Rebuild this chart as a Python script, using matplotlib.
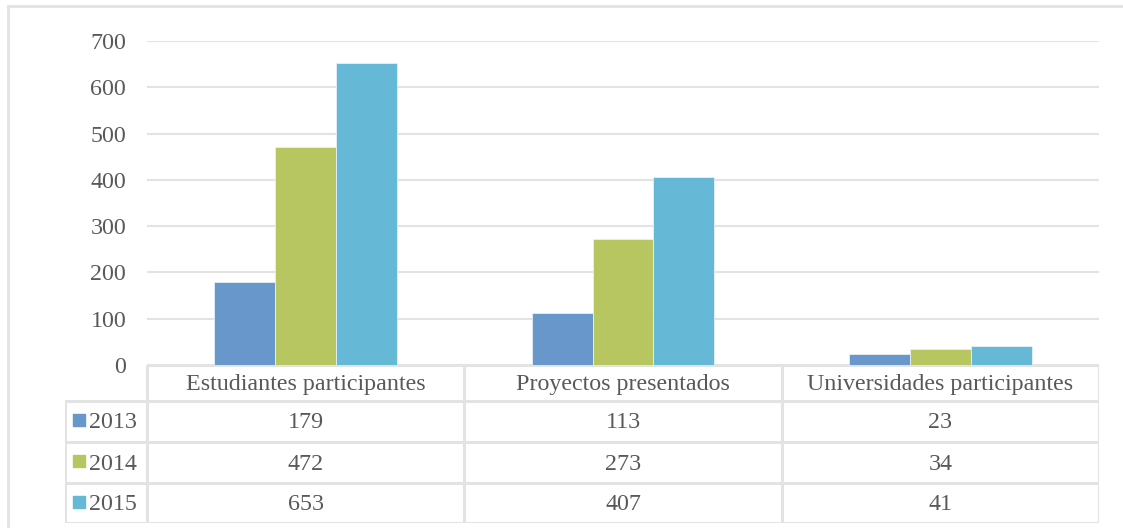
import matplotlib.pyplot as plt
import numpy as np

categories = ["Estudiantes participantes", "Proyectos presentados", "Universidades participantes"]
series_names = ["2013", "2014", "2015"]
values_2013 = [179, 113, 23]
values_2014 = [472, 273, 34]
values_2015 = [653, 407, 41]
y_ticks = [0, 100, 200, 300, 400, 500, 600, 700]

COLORS = ["#6897CB", "#B7C661", "#65B9D6"]
TEXT = "#595959"
GRID = "#E3E3E3"
FONT = "Liberation Serif"
FS = 17.3

W, H = 1123, 528
fig = plt.figure(figsize=(W / 100, H / 100), dpi=100)

def fx(px):
    return px / W

def fy(py):
    return 1 - py / H

# outer chart border (top and left visible)
fig.add_artist(plt.Line2D([fx(8), 1], [fy(6), fy(6)], color=GRID, lw=2))
fig.add_artist(plt.Line2D([fx(8), fx(8)], [fy(6), 0], color=GRID, lw=2))

# main bar axes
left, right, top, bottom = 147, 1099, 41, 365
ax = fig.add_axes([fx(left), fy(bottom), fx(right - left), (bottom - top) / H])

series = [values_2013, values_2014, values_2015]
x = np.arange(len(categories))
width = 0.192
for i, vals in enumerate(series):
    ax.bar(x + (i - 1) * width, vals, width, color=COLORS[i],
           edgecolor="#E8F0F8", linewidth=0.6, zorder=3)

ax.set_xlim(-0.5, 2.5)
ax.set_ylim(0, 700)
ax.set_yticks(y_ticks)
ax.set_yticklabels([str(v) for v in y_ticks], fontfamily=FONT, fontsize=FS, color=TEXT)
ax.tick_params(axis="y", length=0, pad=15)
ax.set_xticks([])
ax.grid(axis="y", color=GRID, lw=1.5, zorder=0)
for s in ax.spines.values():
    s.set_visible(False)

# data table axes
tleft = 65
tbottom = 523
tax = fig.add_axes([fx(tleft), fy(tbottom), fx(right - tleft), (tbottom - bottom) / H])
col_px = (right - left) / 3
x_min = -0.5 - (left - tleft) / col_px
tax.set_xlim(x_min, 2.5)
row_edges = [0, 36, 77, 118, 158]
tax.set_ylim(row_edges[-1], 0)
tax.axis("off")

lc = dict(color=GRID, lw=2.2, solid_capstyle="projecting")
# column dividers
for cx in [-0.5, 0.5, 1.5, 2.5]:
    tax.plot([cx, cx], [0, row_edges[-1]], **lc)
tax.plot([x_min, x_min], [row_edges[1], row_edges[-1]], **lc)
# row lines
tax.plot([-0.5, 2.5], [0, 0], **lc)
for ry in row_edges[1:]:
    tax.plot([x_min, 2.5], [ry, ry], **lc)

for j, cat in enumerate(categories):
    tax.text(j, (row_edges[0] + row_edges[1]) / 2 + 1.5, cat, ha="center", va="center",
             fontfamily=FONT, fontsize=FS, color=TEXT)

for i, vals in enumerate(series):
    yc = (row_edges[i + 1] + row_edges[i + 2]) / 2 + 1.5
    for j, v in enumerate(vals):
        tax.text(j, yc, str(v), ha="center", va="center",
                 fontfamily=FONT, fontsize=FS, color=TEXT)
    tax.text(-0.5 - 10 / col_px, yc, series_names[i], ha="right", va="center",
             fontfamily=FONT, fontsize=FS, color=TEXT)
    tax.scatter([x_min + 14 / col_px], [yc - 3], marker="s", s=72, color=COLORS[i])

fig.savefig("out.png", dpi=100)
